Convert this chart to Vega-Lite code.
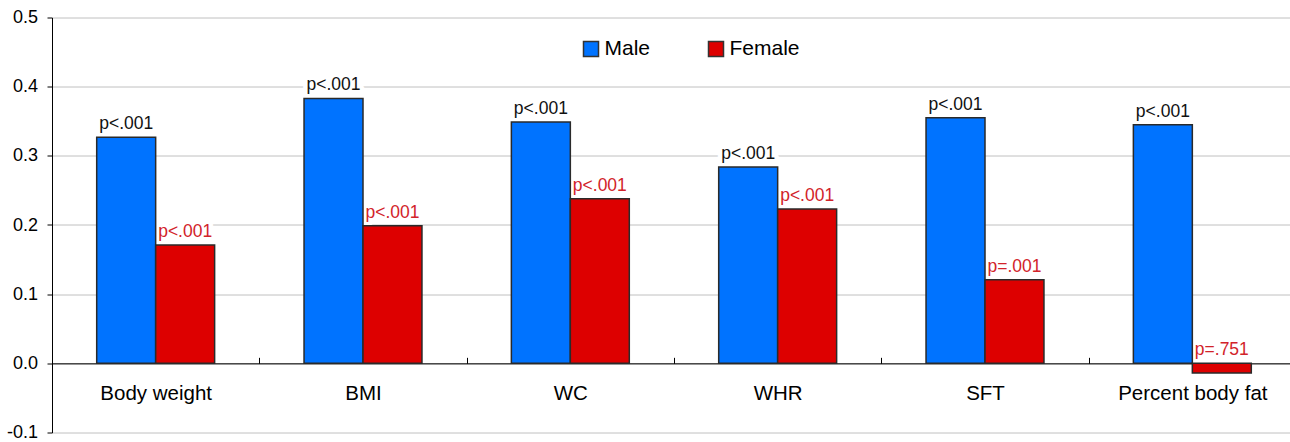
{
  "$schema": "https://vega.github.io/schema/vega-lite/v6.json",
  "width": 1244,
  "height": 415,
  "autosize": "none",
  "padding": {"left": 52, "top": 17.5, "right": 0, "bottom": 9.5},
  "background": "white",
  "config": {"view": {"stroke": null}, "font": "Liberation Sans"},
  "data": {
    "values": [
      {"measure": "Body weight", "sex": "Male", "value": 0.327, "p": "p<.001"},
      {"measure": "Body weight", "sex": "Female", "value": 0.171, "p": "p<.001"},
      {"measure": "BMI", "sex": "Male", "value": 0.383, "p": "p<.001"},
      {"measure": "BMI", "sex": "Female", "value": 0.199, "p": "p<.001"},
      {"measure": "WC", "sex": "Male", "value": 0.349, "p": "p<.001"},
      {"measure": "WC", "sex": "Female", "value": 0.238, "p": "p<.001"},
      {"measure": "WHR", "sex": "Male", "value": 0.284, "p": "p<.001"},
      {"measure": "WHR", "sex": "Female", "value": 0.223, "p": "p<.001"},
      {"measure": "SFT", "sex": "Male", "value": 0.355, "p": "p<.001"},
      {"measure": "SFT", "sex": "Female", "value": 0.121, "p": "p=.001"},
      {"measure": "Percent body fat", "sex": "Male", "value": 0.345, "p": "p<.001"},
      {"measure": "Percent body fat", "sex": "Female", "value": -0.014, "p": "p=.751"}
    ]
  },
  "encoding": {
    "x": {
      "field": "measure",
      "type": "nominal",
      "sort": ["Body weight", "BMI", "WC", "WHR", "SFT", "Percent body fat"],
      "scale": {"paddingInner": 0, "paddingOuter": 0},
      "axis": {
        "title": null,
        "orient": "bottom",
        "offset": -69.17,
        "labelAngle": 0,
        "tickBand": "extent",
        "tickSize": -6,
        "tickColor": "#000",
        "domainColor": "#000",
        "labelPadding": 26.5,
        "labelFontSize": 20.5,
        "labelColor": "#000",
        "labelFont": "Liberation Sans",
        "grid": false
      }
    },
    "xOffset": {
      "field": "sex",
      "sort": ["Male", "Female"],
      "scale": {"paddingInner": 0, "paddingOuter": 0.758}
    },
    "y": {
      "field": "value",
      "type": "quantitative",
      "scale": {"domain": [-0.1, 0.5], "nice": false, "zero": false},
      "axis": {
        "title": null,
        "values": [-0.1, 0, 0.1, 0.2, 0.3, 0.4, 0.5],
        "labelExpr": "replace(format(datum.value, '.1f'), '\u2212', '-')",
        "grid": true,
        "gridColor": "#c0c0c0",
        "gridWidth": 1,
        "domainColor": "#000",
        "tickColor": "#000",
        "tickSize": 5,
        "labelPadding": 9.5,
        "labelFontSize": 18,
        "labelColor": "#000",
        "labelFont": "Liberation Sans"
      }
    }
  },
  "layer": [
    {
      "transform": [{"filter": "datum.value >= 0"}],
      "mark": {"type": "text", "baseline": "alphabetic", "dy": -8, "fontSize": 17.5, "font": "Liberation Sans", "fill": "white", "stroke": "white", "strokeWidth": 9, "strokeJoin": "round"},
      "encoding": {"text": {"field": "p"}}
    },
    {
      "mark": {"type": "bar", "stroke": "#2a2a2a", "strokeWidth": 1.5},
      "encoding": {
        "color": {
          "field": "sex",
          "type": "nominal",
          "scale": {"domain": ["Male", "Female"], "range": ["#0073FF", "#DD0000"]},
          "legend": {
            "orient": "none",
            "legendX": 528.5,
            "legendY": 21,
            "direction": "horizontal",
            "title": null,
            "symbolType": "square",
            "symbolSize": 225,
            "symbolStrokeColor": "#333",
            "symbolStrokeWidth": 1.5,
            "symbolOpacity": 1,
            "labelFontSize": 21,
            "labelOffset": 3,
            "columnPadding": 55,
            "padding": 0,
            "labelFont": "Liberation Sans",
            "labelColor": "#000"
          }
        }
      }
    },
    {
      "transform": [{"filter": "datum.value >= 0"}],
      "mark": {"type": "text", "baseline": "alphabetic", "dy": -8, "fontSize": 17.5, "font": "Liberation Sans"},
      "encoding": {
        "text": {"field": "p"},
        "color": {"condition": {"test": "datum.sex === 'Male'", "value": "#111"}, "value": "#d2232a"}
      }
    },
    {
      "transform": [{"filter": "datum.value < 0"}],
      "mark": {"type": "text", "baseline": "alphabetic", "dy": -8, "fontSize": 17.5, "font": "Liberation Sans"},
      "encoding": {
        "y": {"datum": 0},
        "text": {"field": "p"},
        "color": {"condition": {"test": "datum.sex === 'Male'", "value": "#111"}, "value": "#d2232a"}
      }
    }
  ]
}
